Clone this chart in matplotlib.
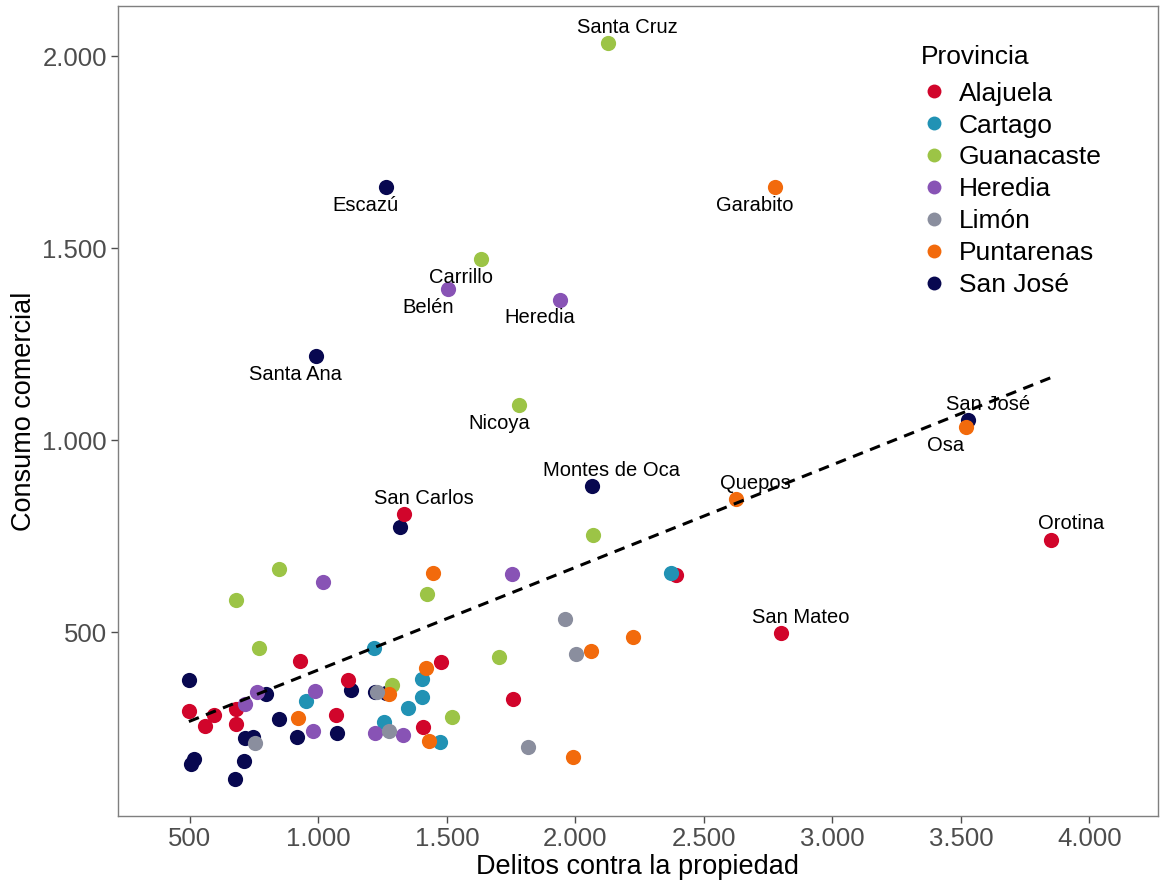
"""Scatter of cantonal commercial consumption vs. property crime, by province."""

import matplotlib.pyplot as plt
import numpy as np
from matplotlib.lines import Line2D
from matplotlib.ticker import FuncFormatter

plt.rcParams["font.family"] = ["Liberation Sans", "DejaVu Sans"]

# Plot order follows the canton codes (1xx San José ... 7xx Limón).
PROVINCIAS_ORDEN = [
    "San José", "Alajuela", "Cartago", "Heredia", "Guanacaste", "Puntarenas", "Limón",
]
COLORES = {
    "Alajuela": "#D1052B",
    "Cartago": "#2192B4",
    "Guanacaste": "#9CC446",
    "Heredia": "#8853B5",
    "Limón": "#8A8E9E",
    "Puntarenas": "#F26A0C",
    "San José": "#080850",
}

provincia = (
    ["San José"] * 19
    + ["Alajuela"] * 15
    + ["Cartago"] * 8
    + ["Heredia"] * 10
    + ["Guanacaste"] * 11
    + ["Puntarenas"] * 11
    + ["Limón"] * 6
)
canton = [
    # San José
    "Escazú", "Santa Ana", "San José", "Montes de Oca", "", "", "", "", "", "",
    "", "", "", "", "", "", "", "", "",
    # Alajuela
    "San Carlos", "Orotina", "San Mateo", "", "", "", "", "", "", "", "", "", "", "", "",
    # Cartago
    "", "", "", "", "", "", "", "",
    # Heredia
    "Belén", "Heredia", "", "", "", "", "", "", "", "",
    # Guanacaste
    "Santa Cruz", "Carrillo", "Nicoya", "", "", "", "", "", "", "", "",
    # Puntarenas
    "Garabito", "Osa", "Quepos", "", "", "", "", "", "", "", "",
    # Limón
    "", "", "", "", "", "",
]
delitos = [
    # San José
    1263, 990, 3527, 2064, 1317, 496, 1126, 796, 1220, 1263,
    846, 714, 745, 916, 1072, 516, 504, 710, 675,
    # Alajuela
    1333, 3850, 2800, 2391, 928, 1477, 1115, 496, 679, 593, 558, 679, 1068, 1407, 1757,
    # Cartago
    1216, 1403, 951, 1403, 1348, 1255, 1473, 2372,
    # Heredia
    1504, 1940, 1017, 986, 761, 714, 979, 1220, 1329, 1753,
    # Guanacaste
    2126, 1632, 1780, 846, 679, 1422, 768, 1286, 1519, 2068, 1702,
    # Puntarenas
    2776, 3520, 2624, 1445, 1418, 1274, 920, 1430, 2224, 2060, 1990,
    # Limón
    1228, 753, 1274, 1959, 2002, 1815,
]
consumo = [
    # San José
    1659, 1219, 1052, 880, 773, 375, 349, 339, 344, 341,
    273, 224, 227, 227, 237, 169, 156, 164, 117,
    # Alajuela
    807, 740, 497, 649, 424, 422, 375, 294, 300, 284, 255, 260, 284, 253, 326,
    # Cartago
    458, 378, 320, 331, 302, 266, 214, 654,
    # Heredia
    1393, 1365, 630, 346, 344, 313, 242, 237, 232, 651,
    # Guanacaste
    2034, 1471, 1091, 664, 583, 599, 458, 362, 279, 753, 435,
    # Puntarenas
    1659, 1034, 846, 654, 406, 339, 276, 216, 487, 451, 174,
    # Limón
    344, 211, 242, 534, 443, 200,
]

# Linear trend (intercept, slope) of consumption on property crime
TENDENCIA = (134.6, 0.267)

# Label placement (pixel offsets from the point) for the named cantons.
ARRIBA = (20, 16)
ABAJO = (-20, -18)
offsets_etiqueta = {
    "Santa Cruz": ARRIBA, "San José": ARRIBA, "Montes de Oca": ARRIBA,
    "Quepos": ARRIBA, "San Carlos": ARRIBA, "Orotina": ARRIBA, "San Mateo": ARRIBA,
}

x = np.array(delitos, dtype=float)
y = np.array(consumo, dtype=float)
prov = np.array(provincia)

fig = plt.figure(figsize=(11.6, 8.86), dpi=100)
ax = fig.add_axes([0.1017, 0.079, 0.8963, 0.914])

for p in PROVINCIAS_ORDEN:
    m = prov == p
    ax.scatter(x[m], y[m], s=120, color=COLORES[p], linewidths=0, zorder=3)

inter, pend = TENDENCIA
xs = np.array([x.min(), x.max()])
ax.plot(xs, inter + pend * xs, color="black", lw=2.2,
        linestyle=(0, (3.5, 2.5)), zorder=4)

for nombre, xi, yi in zip(canton, x, y):
    if not nombre:
        continue
    dx, dy = offsets_etiqueta.get(nombre, ABAJO)
    ax.annotate(nombre, (xi, yi), xytext=(dx, dy), textcoords="offset pixels",
                ha="center", va="center", fontsize=14.5, color="black", zorder=5)

ax.set_xlim(220, 4266)
ax.set_ylim(21, 2130)
ax.set_xticks([500, 1000, 1500, 2000, 2500, 3000, 3500, 4000])
ax.set_yticks([500, 1000, 1500, 2000])
miles = FuncFormatter(lambda v, _: f"{int(v):,}".replace(",", "."))
ax.xaxis.set_major_formatter(miles)
ax.yaxis.set_major_formatter(miles)
ax.tick_params(axis="both", labelsize=18.5, colors="#4D4D4D", length=5,
               width=1, pad=3)
for s in ax.spines.values():
    s.set_color("#7F7F7F")
    s.set_linewidth(1)

ax.set_xlabel("Delitos contra la propiedad", fontsize=19.5, labelpad=2)
ax.set_ylabel("Consumo comercial", fontsize=19.5, labelpad=3.5)

handles = [
    Line2D([], [], marker="o", linestyle="", markersize=10,
           markerfacecolor=COLORES[p], markeredgewidth=0, label=p)
    for p in sorted(COLORES)
]
leg = ax.legend(handles=handles, title="Provincia", loc="upper left",
                bbox_to_anchor=(0.762, 0.965), frameon=False, fontsize=19,
                title_fontsize=19, handletextpad=0.45, labelspacing=0.3,
                handlelength=1.0, borderaxespad=0)
leg._legend_box.align = "left"
leg._legend_box.sep = 9

fig.savefig("out.png", dpi=100)
